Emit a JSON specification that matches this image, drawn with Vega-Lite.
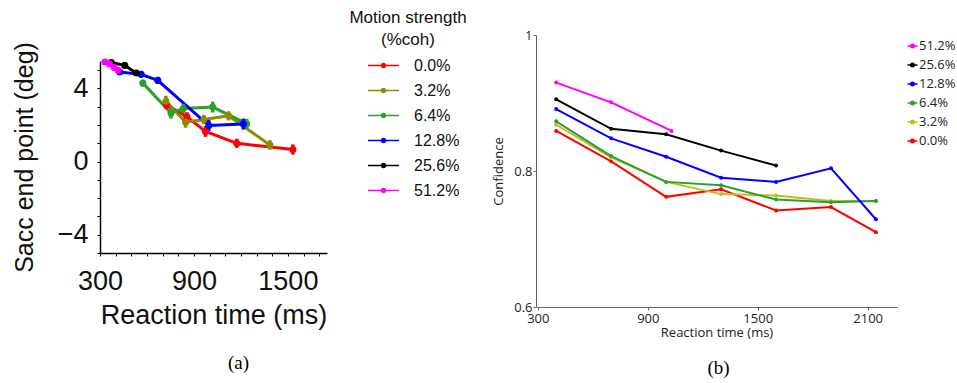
{
  "$schema": "https://vega.github.io/schema/vega-lite/v6.json",
  "padding": {"left": 12, "top": 10, "right": 0, "bottom": 0},
  "spacing": 22,
  "config": {"view": {"stroke": null}},
  "resolve": {"scale": {"stroke": "independent", "fill": "independent", "color": "independent"}, "legend": {"stroke": "independent", "fill": "independent", "color": "independent"}},
  "datasets": {
    "left": [
      {"coh": "0.0%", "rt": 725, "y": 3.1, "lo": 2.85, "hi": 3.35},
      {"coh": "0.0%", "rt": 855, "y": 2.45, "lo": 2.2, "hi": 2.7},
      {"coh": "0.0%", "rt": 974, "y": 1.65, "lo": 1.35, "hi": 1.95},
      {"coh": "0.0%", "rt": 1174, "y": 1.0, "lo": 0.75, "hi": 1.25},
      {"coh": "0.0%", "rt": 1532, "y": 0.66, "lo": 0.38, "hi": 0.94},
      {"coh": "3.2%", "rt": 721, "y": 3.3, "lo": 3.0, "hi": 3.6},
      {"coh": "3.2%", "rt": 847, "y": 2.15, "lo": 1.85, "hi": 2.45},
      {"coh": "3.2%", "rt": 963, "y": 2.3, "lo": 2.05, "hi": 2.55},
      {"coh": "3.2%", "rt": 1121, "y": 2.5, "lo": 2.25, "hi": 2.75},
      {"coh": "3.2%", "rt": 1385, "y": 0.91, "lo": 0.65, "hi": 1.17},
      {"coh": "6.4%", "rt": 574, "y": 4.29, "lo": 4.1, "hi": 4.48},
      {"coh": "6.4%", "rt": 753, "y": 2.65, "lo": 2.35, "hi": 2.95},
      {"coh": "6.4%", "rt": 832, "y": 2.9, "lo": 2.65, "hi": 3.15},
      {"coh": "6.4%", "rt": 1020, "y": 2.98, "lo": 2.68, "hi": 3.28},
      {"coh": "6.4%", "rt": 1237, "y": 2.07, "lo": 1.8, "hi": 2.34},
      {"coh": "12.8%", "rt": 426, "y": 4.9, "lo": 4.75, "hi": 5.05},
      {"coh": "12.8%", "rt": 563, "y": 4.77, "lo": 4.6, "hi": 4.94},
      {"coh": "12.8%", "rt": 669, "y": 4.44, "lo": 4.25, "hi": 4.63},
      {"coh": "12.8%", "rt": 995, "y": 1.97, "lo": 1.67, "hi": 2.27},
      {"coh": "12.8%", "rt": 1216, "y": 2.05, "lo": 1.75, "hi": 2.35},
      {"coh": "25.6%", "rt": 372, "y": 5.42, "lo": 5.3, "hi": 5.54},
      {"coh": "25.6%", "rt": 458, "y": 5.26, "lo": 5.12, "hi": 5.4},
      {"coh": "25.6%", "rt": 532, "y": 4.84, "lo": 4.7, "hi": 4.98},
      {"coh": "51.2%", "rt": 332, "y": 5.45, "lo": 5.35, "hi": 5.55},
      {"coh": "51.2%", "rt": 360, "y": 5.35, "lo": 5.25, "hi": 5.45},
      {"coh": "51.2%", "rt": 390, "y": 5.15, "lo": 5.05, "hi": 5.25},
      {"coh": "51.2%", "rt": 416, "y": 4.99, "lo": 4.88, "hi": 5.1}
    ],
    "right": [
      {"coh": "0.0%", "rt": 400, "conf": 0.859},
      {"coh": "0.0%", "rt": 700, "conf": 0.814},
      {"coh": "0.0%", "rt": 1000, "conf": 0.762},
      {"coh": "0.0%", "rt": 1300, "conf": 0.773},
      {"coh": "0.0%", "rt": 1600, "conf": 0.742},
      {"coh": "0.0%", "rt": 1900, "conf": 0.747},
      {"coh": "0.0%", "rt": 2145, "conf": 0.71},
      {"coh": "3.2%", "rt": 400, "conf": 0.868},
      {"coh": "3.2%", "rt": 700, "conf": 0.82},
      {"coh": "3.2%", "rt": 1000, "conf": 0.784},
      {"coh": "3.2%", "rt": 1300, "conf": 0.766},
      {"coh": "3.2%", "rt": 1600, "conf": 0.764},
      {"coh": "3.2%", "rt": 1900, "conf": 0.756},
      {"coh": "3.2%", "rt": 2145, "conf": 0.756},
      {"coh": "6.4%", "rt": 400, "conf": 0.873},
      {"coh": "6.4%", "rt": 700, "conf": 0.822},
      {"coh": "6.4%", "rt": 1000, "conf": 0.784},
      {"coh": "6.4%", "rt": 1300, "conf": 0.779},
      {"coh": "6.4%", "rt": 1600, "conf": 0.758},
      {"coh": "6.4%", "rt": 1900, "conf": 0.754},
      {"coh": "6.4%", "rt": 2145, "conf": 0.756},
      {"coh": "12.8%", "rt": 400, "conf": 0.891},
      {"coh": "12.8%", "rt": 700, "conf": 0.848},
      {"coh": "12.8%", "rt": 1000, "conf": 0.821},
      {"coh": "12.8%", "rt": 1300, "conf": 0.79},
      {"coh": "12.8%", "rt": 1600, "conf": 0.784},
      {"coh": "12.8%", "rt": 1900, "conf": 0.804},
      {"coh": "12.8%", "rt": 2145, "conf": 0.729},
      {"coh": "25.6%", "rt": 400, "conf": 0.9055},
      {"coh": "25.6%", "rt": 700, "conf": 0.862},
      {"coh": "25.6%", "rt": 1000, "conf": 0.854},
      {"coh": "25.6%", "rt": 1300, "conf": 0.83},
      {"coh": "25.6%", "rt": 1600, "conf": 0.808},
      {"coh": "51.2%", "rt": 400, "conf": 0.93},
      {"coh": "51.2%", "rt": 700, "conf": 0.901},
      {"coh": "51.2%", "rt": 1030, "conf": 0.859}
    ]
  },
  "hconcat": [
    {
      "spacing": 0,
      "vconcat": [
        {
          "width": 227,
          "height": 6,
          "data": {"name": "left"},
          "mark": {"type": "point", "size": 0, "opacity": 0},
          "encoding": {
            "x": {"field": "rt", "type": "quantitative", "axis": null},
            "y": {"field": "y", "type": "quantitative", "axis": null}
          }
        },
        {
          "width": 227,
          "height": 192,
          "data": {"name": "left"},
          "title": {"text": "(a)", "orient": "bottom", "anchor": "middle", "frame": "group", "font": "Liberation Serif", "fontSize": 19, "fontWeight": "normal", "color": "#000", "dx": 25, "offset": 26},
          "encoding": {
            "x": {"field": "rt", "type": "quantitative",
              "scale": {"domain": [300, 1750], "nice": false, "zero": false},
              "axis": {"title": "Reaction time (ms)", "values": [300,400,500,600,700,800,900,1000,1100,1200,1300,1400,1500,1600,1700],
                "labelExpr": "datum.value % 600 == 300 ? datum.label : ''", "format": "d",
                "grid": false, "labelFlush": false, "labelOverlap": false, "domainColor": "#000", "tickColor": "#000", "tickSize": 3, "domainWidth": 1.5,
                "labelFont": "Liberation Sans", "labelFontSize": 27, "labelColor": "#111", "labelPadding": 12,
                "titleFont": "Liberation Sans", "titleFontSize": 27, "titleFontWeight": "normal", "titleColor": "#111", "titlePadding": 8}},
            "y": {"field": "y", "type": "quantitative",
              "scale": {"domain": [-5, 5.5], "nice": false, "zero": false},
              "axis": {"title": "Sacc end point (deg)", "values": [-5,-4,-3,-2,-1,0,1,2,3,4,5],
                "labelExpr": "datum.value % 4 == 0 ? datum.label : ''", "labelOverlap": false,
                "grid": false, "domainColor": "#000", "tickColor": "#000", "tickSize": 3, "domainWidth": 1.5,
                "labelFont": "Liberation Sans", "labelFontSize": 27, "labelColor": "#111", "labelPadding": 9,
                "titleFont": "Liberation Sans", "titleFontSize": 25, "titleFontWeight": "normal", "titleColor": "#111", "titlePadding": 20}}
          },
          "layer": [
            {
              "mark": {"type": "line", "strokeWidth": 3},
              "encoding": {
                "stroke": {"field": "coh", "type": "nominal", "legend": null,
                  "scale": {"domain": ["0.0%","3.2%","6.4%","12.8%","25.6%","51.2%"], "range": ["#ff0000","#8c8c00","#2ca02c","#0000ff","#000000","#ff00ff"]}}
              }
            },
            {
              "mark": {"type": "rule", "strokeWidth": 3.5},
              "encoding": {
                "y": {"field": "lo", "type": "quantitative"},
                "y2": {"field": "hi"},
                "stroke": {"field": "coh", "type": "nominal", "legend": null}
              }
            },
            {
              "mark": {"type": "point", "filled": true, "size": 50, "opacity": 1},
              "encoding": {
                "fill": {"field": "coh", "type": "nominal", "legend": null,
                  "scale": {"domain": ["0.0%","3.2%","6.4%","12.8%","25.6%","51.2%"], "range": ["#ff0000","#8c8c00","#2ca02c","#0000ff","#000000","#ff00ff"]}}
              }
            }
          ]
        }
      ]
    },
    {
      "width": 361,
      "height": 272,
      "title": {"text": "(b)", "orient": "bottom", "anchor": "middle", "frame": "group", "font": "Liberation Serif", "fontSize": 19, "fontWeight": "normal", "color": "#000", "dx": 2, "offset": 20},
      "encoding": {
        "x": {"field": "rt", "type": "quantitative",
          "scale": {"domain": [290, 2260], "nice": false, "zero": false},
          "axis": {"title": "Reaction time (ms)", "values": [300, 900, 1500, 2100], "format": "d",
            "grid": false, "labelFlush": false, "labelOverlap": false, "domainColor": "#666", "tickColor": "#666", "tickSize": 3,
            "labelFont": "Open Sans", "labelFontSize": 13, "labelColor": "#222", "labelPadding": 2,
            "titleFont": "Open Sans", "titleFontSize": 13, "titleFontWeight": "normal", "titleColor": "#222", "titlePadding": 1}},
        "y": {"field": "conf", "type": "quantitative",
          "scale": {"domain": [0.6, 1], "nice": false, "zero": false},
          "axis": {"title": "Confidence", "values": [0.6, 0.8, 1], "format": ".1~f",
            "grid": false, "labelOverlap": false, "domainColor": "#666", "tickColor": "#666", "tickSize": 3,
            "labelFont": "Open Sans", "labelFontSize": 13, "labelColor": "#222", "labelPadding": 1,
            "titleFont": "Open Sans", "titleFontSize": 13, "titleFontWeight": "normal", "titleColor": "#222", "titlePadding": 8}}
      },
      "layer": [
        {
          "data": {"name": "left"},
          "transform": [{"filter": "datum.rt < 0"}],
          "mark": {"type": "line", "strokeWidth": 1.5},
          "encoding": {
            "y": {"field": "y", "type": "quantitative"},
            "color": {"field": "coh", "type": "nominal",
              "scale": {"domain": ["0.0%","3.2%","6.4%","12.8%","25.6%","51.2%"], "range": ["#ff0000","#8c8c00","#2ca02c","#0000ff","#000000","#ff00ff"]},
              "legend": {"title": ["Motion strength", "(%coh)"], "orient": "none", "legendX": -187, "legendY": -25,
                "titleFont": "Liberation Sans", "titleFontSize": 17, "titleFontWeight": "normal", "titleColor": "#111", "titleAnchor": "middle", "titleAlign": "center", "titleLineHeight": 22, "titlePadding": 0, "titleLimit": 300,
                "labelFont": "Liberation Sans", "labelFontSize": 16, "labelColor": "#111", "labelOffset": 14,
                "symbolType": "M-1,0H1M0.13,0A0.13,0.13,0,1,1,-0.13,0A0.13,0.13,0,1,1,0.13,0M0.05,0A0.05,0.05,0,1,1,-0.05,0A0.05,0.05,0,1,1,0.05,0", "symbolSize": 961, "symbolStrokeWidth": 1.6, "symbolOffset": 10, "rowPadding": -8.5}}
          }
        },
        {
          "data": {"name": "right"},
          "mark": {"type": "line", "strokeWidth": 2},
          "encoding": {
            "stroke": {"field": "coh", "type": "nominal",
              "scale": {"domain": ["51.2%","25.6%","12.8%","6.4%","3.2%","0.0%"], "range": ["#ff00ff","#000000","#0000ff","#2ca02c","#bcbd22","#ff0000"]},
              "legend": {"title": null, "orient": "none", "legendX": 370, "legendY": 4.5,
                "labelFont": "Open Sans", "labelFontSize": 13, "labelColor": "#222", "labelOffset": 0,
                "symbolType": "M-1,0H1M0.35,0A0.35,0.35,0,1,1,-0.35,0A0.35,0.35,0,1,1,0.35,0Z", "symbolSize": 100, "symbolStrokeWidth": 1.5, "rowPadding": 5}}
          }
        },
        {
          "data": {"name": "right"},
          "mark": {"type": "point", "filled": true, "size": 16, "opacity": 1},
          "encoding": {
            "fill": {"field": "coh", "type": "nominal",
              "scale": {"domain": ["51.2%","25.6%","12.8%","6.4%","3.2%","0.0%"], "range": ["#ff00ff","#000000","#0000ff","#2ca02c","#bcbd22","#ff0000"]},
              "legend": {"title": null, "orient": "none", "legendX": 370, "legendY": 4.5,
                "labelFont": "Open Sans", "labelFontSize": 13, "labelColor": "#222", "labelOffset": 0,
                "symbolType": "M-1,0H1M0.35,0A0.35,0.35,0,1,1,-0.35,0A0.35,0.35,0,1,1,0.35,0Z", "symbolSize": 100, "symbolStrokeWidth": 1.5, "rowPadding": 5}}
          }
        }
      ]
    }
  ]
}
